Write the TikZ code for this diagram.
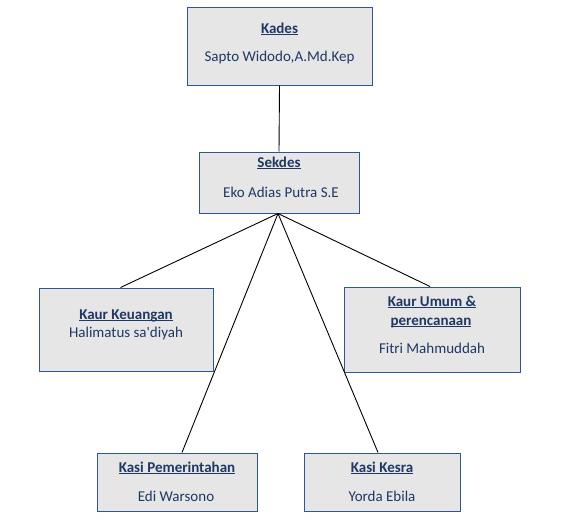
\documentclass[tikz,border=0pt]{standalone}
\usepackage{fontspec}
\setmainfont{Carlito}[Ligatures=TeXOff]
\usetikzlibrary{calc}
\definecolor{boxfill}{HTML}{E7E6E6}
\definecolor{boxline}{HTML}{2F5597}
\definecolor{txt}{HTML}{1F3864}
\newcommand{\myul}[1]{\setbox0\hbox{#1}\rlap{\rule[-1.6pt]{\wd0}{1pt}}\box0}
\tikzset{
  orgbox/.style={draw=boxline, fill=boxfill, line width=1pt, inner sep=0pt},
  lbl/.style={text=txt, anchor=base, inner sep=0pt, font=\fontsize{15}{17}\selectfont},
  ttl/.style={lbl, font=\fontsize{15}{17}\selectfont\bfseries},
  conn/.style={draw=black, line width=0.9pt}
}
\begin{document}
\begin{tikzpicture}[x=1pt,y=-1pt]
\useasboundingbox (0,0) rectangle (567,530);
% boxes
\node[orgbox, minimum width=185pt, minimum height=78pt] (kades) at (279.5,46) {};
\node[orgbox, minimum width=160pt, minimum height=61pt] (sekdes) at (279,182.5) {};
\node[orgbox, minimum width=174pt, minimum height=83pt] (kk) at (126,329.5) {};
\node[orgbox, minimum width=176pt, minimum height=85pt] (ku) at (432,329.5) {};
\node[orgbox, minimum width=160pt, minimum height=58pt] (kp) at (177,482) {};
\node[orgbox, minimum width=156pt, minimum height=58pt] (ks) at (382,482) {};
% texts
\node[ttl] (kadesT) at (279.5,33) {\myul{Kades}};
\node[lbl] (kadesN) at (279.5,61) {Sapto Widodo,A.Md.Kep};
\node[ttl] (sekdesT) at (279,167.5) {\myul{Sekdes}};
\node[lbl] (sekdesN) at (281,197) {Eko Adias Putra S.E};
\node[ttl] (kkT) at (126,319.5) {\myul{Kaur Keuangan}};
\node[lbl] (kkN) at (126,337.5) {Halimatus sa'diyah};
\node[ttl] (kuT1) at (432,306.5) {\myul{Kaur Umum \&}};
\node[ttl] (kuT2) at (431,325.5) {\myul{perencanaan}};
\node[lbl] (kuN) at (432,353) {Fitri Mahmuddah};
\node[ttl] (kpT) at (177,472.5) {\myul{Kasi Pemerintahan}};
\node[lbl] (kpN) at (176,501) {Edi Warsono};
\node[ttl] (ksT) at (382,472.5) {\myul{Kasi Kesra}};
\node[lbl] (ksN) at (382,501) {Yorda Ebila};
% connectors
\coordinate (hub) at ($(sekdes.south)+(-1,0)$);
\draw[conn] (kades.south) -- (sekdes.north);
\draw[conn] (hub) -- ($(kk.north)+(-5.5,0)$);
\draw[conn] (hub) -- ($(ku.north)+(-2,0)$);
\draw[conn] (hub) -- ($(kp.north)+(5,0)$);
\draw[conn] (hub) -- ($(ks.north)+(-4,0)$);
\end{tikzpicture}
\end{document}
